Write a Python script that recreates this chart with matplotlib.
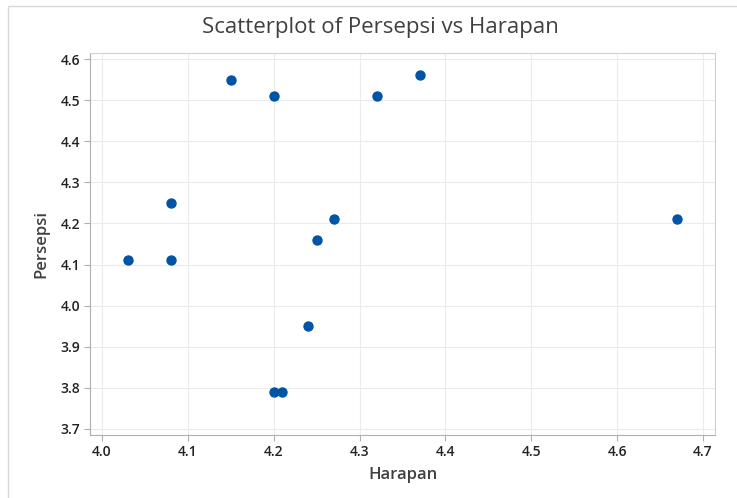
import matplotlib.pyplot as plt
from matplotlib.patches import Rectangle

harapan = [4.03, 4.08, 4.08, 4.15, 4.20, 4.32, 4.37, 4.27, 4.25, 4.24, 4.20, 4.21, 4.67]
persepsi = [4.11, 4.25, 4.11, 4.55, 4.51, 4.51, 4.56, 4.21, 4.16, 3.95, 3.79, 3.79, 4.21]
xticks = [4.0, 4.1, 4.2, 4.3, 4.4, 4.5, 4.6, 4.7]
yticks = [3.7, 3.8, 3.9, 4.0, 4.1, 4.2, 4.3, 4.4, 4.5, 4.6]

plt.rcParams['font.family'] = ['Open Sans', 'DejaVu Sans']

fig = plt.figure(figsize=(7.37, 4.98), dpi=100)
fig.patches.append(Rectangle((8/737, -0.01), 1.0, 1 - 6/498 + 0.01, transform=fig.transFigure,
                             fill=False, edgecolor='#d8d8d8', linewidth=1))
ax = fig.add_axes([90/737, 1 - 435/498, 625/737, 382/498])

ax.scatter(harapan, persepsi, s=42, color='#0054a6', zorder=3)

ax.set_xlim(3.986, 4.714)
ax.set_ylim(3.6854, 4.6146)
ax.set_xticks(xticks)
ax.set_yticks(yticks)
ax.set_xticklabels([f'{t:.1f}' for t in xticks], fontweight='semibold')
ax.set_yticklabels([f'{t:.1f}' for t in yticks], fontweight='semibold')
ax.grid(color='#ebebeb', linewidth=0.8)
ax.set_axisbelow(True)
ax.tick_params(length=4, width=0.8, color='#b0b0b0', labelsize=10, labelcolor='#222222', pad=3)

for side in ['left', 'bottom']:
    ax.spines[side].set_color('#b0b0b0')
for side in ['top', 'right']:
    ax.spines[side].set_color('#d0d0d0')

ax.set_xlabel('Harapan', fontsize=12, color='#404040', fontweight='semibold', labelpad=6)
ax.set_ylabel('Persepsi', fontsize=12, color='#404040', fontweight='semibold', labelpad=8)
fig.suptitle('Scatterplot of Persepsi vs Harapan', x=380/737, y=1 - 17/498, fontsize=16,
             color='#404040', fontweight='medium', va='top')

fig.savefig('out.png', dpi=100)
